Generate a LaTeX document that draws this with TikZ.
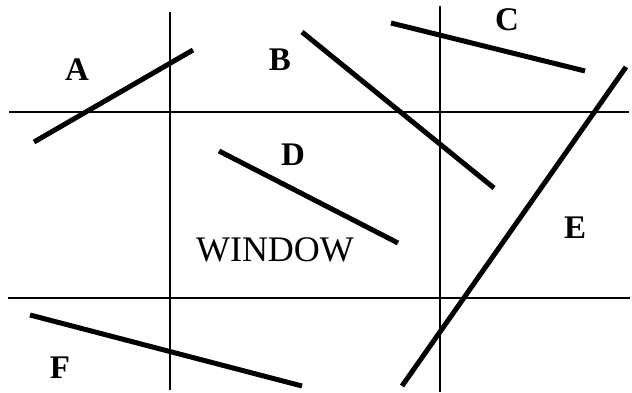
\documentclass[tikz,border=0pt]{standalone}
\usepackage{fontspec}
\setmainfont{Liberation Serif}

\begin{document}
\begin{tikzpicture}[
  x=1pt, y=-1pt,
  frame/.style={draw, line width=2.8pt},
  seg/.style={draw, line width=5pt},
  lbl/.style={inner sep=0pt, font=\fontsize{33}{33}\selectfont\bfseries},
  win/.style={inner sep=0pt, font=\fontsize{36}{36}\selectfont}
  ]
\useasboundingbox (0,0) rectangle (632,393);

% window edges
\draw[frame] (9,112) -- (629,112);
\draw[frame] (8,298) -- (630,298);
\draw[frame] (170,12) -- (170,390);
\draw[frame] (440,6) -- (440,392);

% segments
\coordinate (a1) at (34,142);  \coordinate (a2) at (193,50);
\coordinate (b1) at (302,32);  \coordinate (b2) at (494,188);
\coordinate (c1) at (391,23);  \coordinate (c2) at (585,71);
\coordinate (d1) at (219,151); \coordinate (d2) at (398,243);
\coordinate (e1) at (626,67);  \coordinate (e2) at (402,386);
\coordinate (f1) at (30,315);  \coordinate (f2) at (302,386);
\draw[seg] (a1) -- (a2);
\draw[seg] (b1) -- (b2);
\draw[seg] (c1) -- (c2);
\draw[seg] (d1) -- (d2);
\draw[seg] (e1) -- (e2);
\draw[seg] (f1) -- (f2);

% labels
\node[lbl] (la) at (77,70) {A};
\node[lbl] (lb) at (280,60) {B};
\node[lbl] (lc) at (507,20) {C};
\node[lbl] (ld) at (293,155) {D};
\node[lbl] (le) at (575,228) {E};
\node[lbl] (lf) at (60,368) {F};
\node[win] (window) at (275,250) {WINDOW};

\end{tikzpicture}
\end{document}
